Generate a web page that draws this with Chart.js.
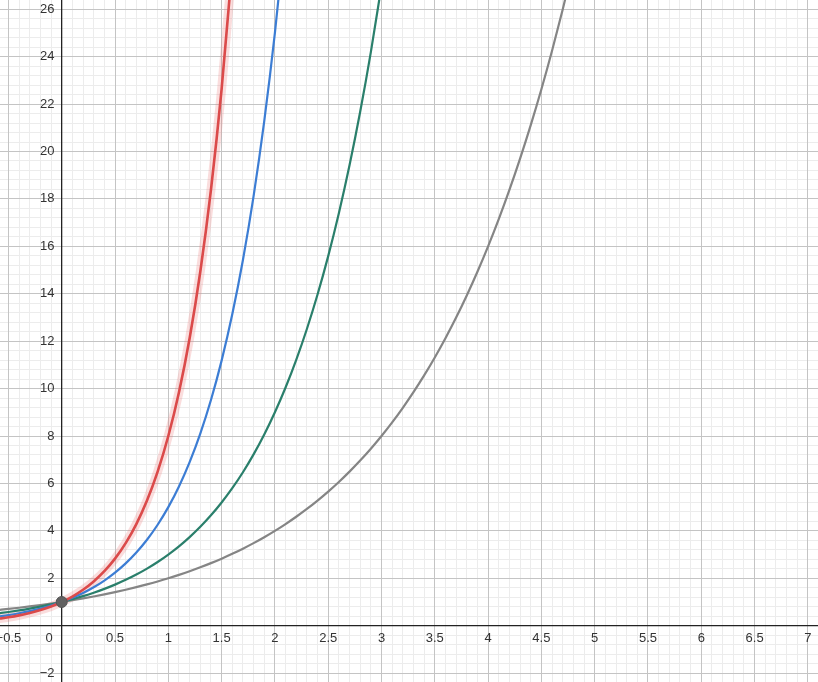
<!DOCTYPE html>
<html>
<head>
<meta charset="utf-8">
<script src="https://cdn.jsdelivr.net/npm/chart.js@4/dist/chart.umd.min.js"></script>
<style>
  html, body { margin: 0; padding: 0; background: #fff; }
  #wrap { width: 818px; height: 682px; }
</style>
</head>
<body>
<div id="wrap"><canvas id="myChart" width="818" height="682"></canvas></div>
<script>
// x samples shared by all curves
var xs = [-0.6, -0.5, -0.4, -0.3, -0.2, -0.1, 0, 0.1, 0.2, 0.3, 0.4, 0.5, 0.6, 0.7, 0.8, 0.9,
  1, 1.1, 1.2, 1.3, 1.4, 1.5, 1.6, 1.7, 1.8, 1.9, 2, 2.1, 2.2, 2.3, 2.4, 2.5, 2.6, 2.7, 2.8, 2.9,
  3, 3.1, 3.2, 3.3, 3.4, 3.5, 3.6, 3.7, 3.8, 3.9, 4, 4.1, 4.2, 4.3, 4.4, 4.5, 4.6, 4.7, 4.8];

// gray curve
var grayY = [0.660, 0.707, 0.758, 0.812, 0.871, 0.933, 1, 1.072, 1.149, 1.231, 1.320, 1.414, 1.516, 1.625, 1.741, 1.866,
  2, 2.144, 2.297, 2.462, 2.639, 2.828, 3.031, 3.249, 3.482, 3.732, 4, 4.287, 4.595, 4.925, 5.278, 5.657, 6.063, 6.498, 6.964, 7.464,
  8, 8.574, 9.190, 9.849, 10.556, 11.314, 12.126, 12.996, 13.929, 14.929, 16, 17.148, 18.379, 19.698, 21.112, 22.627, 24.251, 25.992, 27.858];

// green curve
var greenY = [0.517, 0.577, 0.644, 0.719, 0.803, 0.896, 1, 1.116, 1.246, 1.390, 1.552, 1.732, 1.933, 2.158, 2.408, 2.688,
  3, 3.348, 3.737, 4.171, 4.655, 5.196, 5.800, 6.473, 7.225, 8.064, 9, 10.045, 11.212, 12.514, 13.967, 15.588, 17.399, 19.419, 21.674, 24.191,
  27];

// blue curve
var blueY = [0.381, 0.447, 0.525, 0.617, 0.725, 0.851, 1, 1.175, 1.380, 1.621, 1.904, 2.236, 2.627, 3.085, 3.624, 4.257,
  5, 5.873, 6.899, 8.103, 9.518, 11.180, 13.133, 15.426, 18.119, 21.283, 25, 29.365];

// red curve
var redY = [0.287, 0.354, 0.435, 0.536, 0.660, 0.812, 1, 1.231, 1.516, 1.866, 2.297, 2.828, 3.482, 4.287, 5.278, 6.498,
  8, 9.849, 12.126, 14.929, 18.379, 22.627, 27.858];

// common point
var pointX = [0];
var pointY = [1];

var xTicks = [-0.5, 0, 0.5, 1, 1.5, 2, 2.5, 3, 3.5, 4, 4.5, 5, 5.5, 6, 6.5, 7];
var yTicks = [-2, 0, 2, 4, 6, 8, 10, 12, 14, 16, 18, 20, 22, 24, 26];

function pts(ys) {
  return ys.map(function (y, i) { return { x: xs[i], y: y }; });
}

function fmt(v) {
  var s = String(v);
  return v < 0 ? "\u2212" + s.slice(1) : s;
}

// keep the plot area on the whole canvas
function noPad(s) {
  s.paddingLeft = s.paddingRight = s.paddingTop = s.paddingBottom = 0;
}

var tickFont = { family: "Liberation Sans", size: 13 };
var majorGrid = "#c4c4c4";
var minorGrid = "#ececec";

function lineSet(ys, color, width, order) {
  return {
    data: pts(ys),
    borderColor: color,
    borderWidth: width,
    pointRadius: 0,
    cubicInterpolationMode: "monotone",
    fill: false,
    order: order,
  };
}

var ctx = document.getElementById("myChart").getContext("2d");
var myChart = new Chart(ctx, {
  type: "line",
  data: {
    datasets: [
      {
        data: pointX.map(function (x, i) { return { x: x, y: pointY[i] }; }),
        showLine: false,
        pointRadius: 5.5,
        pointBackgroundColor: "#616161",
        pointBorderColor: "#555555",
        pointBorderWidth: 1,
        order: 0,
      },
      lineSet(redY, "#db4a4a", 2.6, 1),
      lineSet(blueY, "#3c7dd4", 2.2, 2),
      lineSet(greenY, "#2a7f6b", 2.2, 3),
      lineSet(grayY, "#858585", 2.2, 4),
      lineSet(redY, "rgba(235,120,120,0.25)", 9, 5),
    ],
  },
  options: {
    responsive: false,
    animation: false,
    layout: { padding: 0, autoPadding: false },
    plugins: { legend: { display: false }, tooltip: { enabled: false } },
    scales: {
      xMinor: {
        axis: "x",
        type: "linear",
        min: -0.579,
        max: 7.095,
        position: { y: 0 },
        afterFit: noPad,
        ticks: { display: false, stepSize: 0.1, includeBounds: false },
        grid: { color: minorGrid, drawTicks: false, z: -2 },
        border: { display: false },
      },
      yMinor: {
        axis: "y",
        type: "linear",
        min: -2.375,
        max: 26.39,
        position: { x: 0 },
        afterFit: noPad,
        ticks: { display: false, stepSize: 0.4, includeBounds: false },
        grid: { color: minorGrid, drawTicks: false, z: -2 },
        border: { display: false },
      },
      x: {
        type: "linear",
        min: -0.579,
        max: 7.095,
        position: { y: 0 },
        afterFit: noPad,
        afterBuildTicks: function (axis) {
          axis.ticks = xTicks.map(function (v) { return { value: v }; });
        },
        ticks: {
          autoSkip: false,
          maxRotation: 0,
          padding: 5,
          color: "#333333",
          font: tickFont,
          callback: function (v) { return v === 0 ? "0       " : fmt(v); },
        },
        grid: { color: majorGrid, drawTicks: false, z: -1 },
        border: { color: "#222222", width: 1.3 },
      },
      y: {
        type: "linear",
        min: -2.375,
        max: 26.39,
        position: { x: 0 },
        afterFit: noPad,
        afterBuildTicks: function (axis) {
          axis.ticks = yTicks.map(function (v) { return { value: v }; });
        },
        ticks: {
          autoSkip: false,
          color: "#333333",
          font: tickFont,
          callback: function (v) { return v === 0 ? "" : fmt(v) + "  "; },
        },
        grid: { color: majorGrid, drawTicks: false, z: -1 },
        border: { color: "#222222", width: 1.3 },
      },
    },
  },
});
</script>
</body>
</html>
